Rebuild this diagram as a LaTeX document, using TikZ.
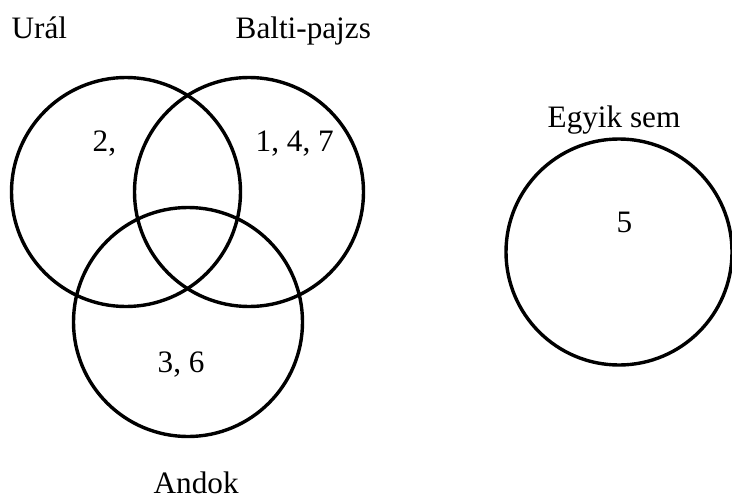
\documentclass[tikz,border=0pt]{standalone}
\usepackage{fontspec}
\setmainfont{Liberation Serif}
\begin{document}
\begin{tikzpicture}[x=0.5pt,y=-0.5pt,line width=1.7pt,
  lbl/.style={anchor=base west,inner sep=0pt,font=\fontsize{15.6}{18}\selectfont}]
\useasboundingbox (0,0) rectangle (732,498);
\coordinate (ural) at (126,192);
\coordinate (balti) at (249,192);
\coordinate (andok) at (188,322);
\coordinate (egyik) at (619,252);

\draw (ural) circle (114.5);
\draw (balti) circle (114.5);
\draw (andok) circle (114.5);
\draw (egyik) circle (113);

\node[lbl] (tural) at (10,38) {Urál};
\node[lbl] (tbalti) at (234,38) {Balti-pajzs};
\node[lbl] (tandok) at (152,493) {Andok};
\node[lbl] (tegyik) at (546,127) {Egyik sem};

\node[lbl] (nural) at (91,151) {2,};
\node[lbl] (nbalti) at (254,151) {1, 4, 7};
\node[lbl] (nandok) at (156,372) {3, 6};
\node[lbl] (negyik) at (615,232) {5};
\end{tikzpicture}
\end{document}
